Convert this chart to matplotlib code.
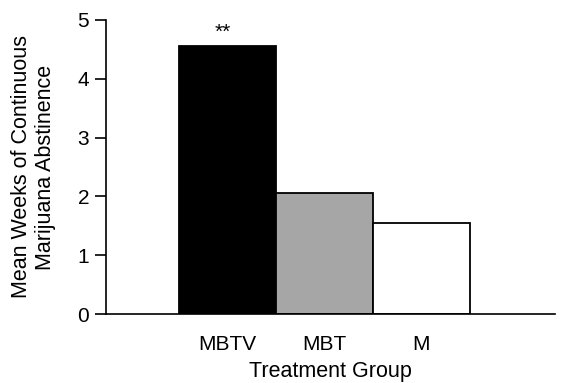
import matplotlib.pyplot as plt
import numpy as np

plt.rcParams['font.family'] = ['Liberation Sans', 'DejaVu Sans']

groups = ['MBTV', 'MBT', 'M']
mean_weeks = [4.56, 2.06, 1.55]
bar_colors = ['black', '#a6a6a6', 'white']

fig = plt.figure(figsize=(5.69, 3.83), dpi=100)
ax = fig.add_axes([0.186, 0.180, 0.789, 0.768])

x = np.arange(len(groups))
ax.bar(x, mean_weeks, width=1.0, color=bar_colors, edgecolor='black', linewidth=1.3)

# significance marker above the first bar
ax.text(x[0] - 0.05, mean_weeks[0] + 0.06, '**', ha='center', va='bottom', fontsize=15)

ax.set_xlim(-1.26, 3.38)
ax.set_ylim(0, 5)
ax.set_yticks(range(6))
ax.set_xticks(x)
ax.set_xticklabels(groups, fontsize=15)
ax.tick_params(axis='x', length=0, pad=15)
ax.tick_params(axis='y', direction='out', length=8, width=1.2, labelsize=15, pad=4)

for side in ['top', 'right']:
    ax.spines[side].set_visible(False)
ax.spines['left'].set_linewidth(1.2)
ax.spines['bottom'].set_linewidth(1.2)

ax.set_xlabel('Treatment Group', fontsize=15.5, labelpad=5)
ax.set_ylabel('Mean Weeks of Continuous\nMarijuana Abstinence', fontsize=15.5, linespacing=1.15)
ax.yaxis.set_label_coords(-0.112, 0.5)

fig.savefig('out.png', dpi=100)
